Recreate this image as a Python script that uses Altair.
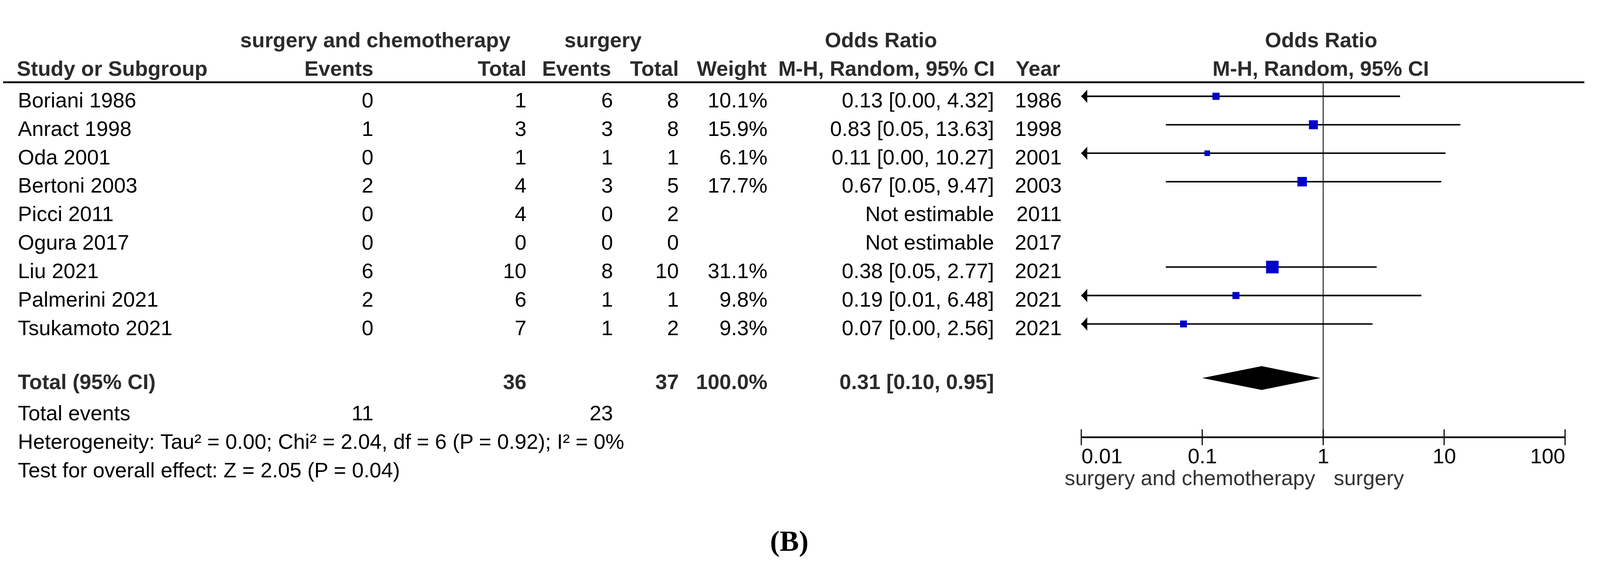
import altair as alt
import pandas as pd

# ---------------- data ----------------
studies = ["Boriani 1986", "Anract 1998", "Oda 2001", "Bertoni 2003", "Picci 2011",
           "Ogura 2017", "Liu 2021", "Palmerini 2021", "Tsukamoto 2021"]
events_sc = [0, 1, 0, 2, 0, 0, 6, 2, 0]
total_sc = [1, 3, 1, 4, 4, 0, 10, 6, 7]
events_s = [6, 3, 1, 3, 0, 0, 8, 1, 1]
total_s = [8, 8, 1, 5, 2, 0, 10, 1, 2]
weights = [10.1, 15.9, 6.1, 17.7, None, None, 31.1, 9.8, 9.3]
odds = [0.13, 0.83, 0.11, 0.67, None, None, 0.38, 0.19, 0.07]
ci_low = [0.00, 0.05, 0.00, 0.05, None, None, 0.05, 0.01, 0.00]
ci_high = [4.32, 13.63, 10.27, 9.47, None, None, 2.77, 6.48, 2.56]
years = [1986, 1998, 2001, 2003, 2011, 2017, 2021, 2021, 2021]

total_label = "Total (95% CI)"
total_n_sc = 36
total_n_s = 37
total_weight = 100.0
total_or = 0.31
total_lo = 0.10
total_hi = 0.95
events_label = "Total events"
total_events_sc = 11
total_events_s = 23
heterogeneity = "Heterogeneity: Tau\u00b2 = 0.00; Chi\u00b2 = 2.04, df = 6 (P = 0.92); I\u00b2 = 0%"
overall = "Test for overall effect: Z = 2.05 (P = 0.04)"
axis_ticks = [0.01, 0.1, 1, 10, 100]
favours = ["surgery and chemotherapy", "surgery"]

# ---------------- tables ----------------
def eff(o, l, h):
    if o is None:
        return "Not estimable"
    return f"{o:.2f} [{l:.2f}, {h:.2f}]"

df = pd.DataFrame({
    "study": studies,
    "e1": [str(v) for v in events_sc],
    "n1": [str(v) for v in total_sc],
    "e2": [str(v) for v in events_s],
    "n2": [str(v) for v in total_s],
    "w": weights,
    "wl": ["" if w is None else f"{w:.1f}%" for w in weights],
    "or": odds,
    "lo": ci_low,
    "hi": ci_high,
    "eff": [eff(o, l, h) for o, l, h in zip(odds, ci_low, ci_high)],
    "year": [str(y) for y in years],
})
df["r"] = range(len(df))
n = len(df)
R_TOTAL = n + 0.9

total_df = pd.DataFrame([{
    "r": R_TOTAL, "label": total_label, "n1": str(total_n_sc), "n2": str(total_n_s),
    "wl": f"{total_weight:.1f}%", "eff": eff(total_or, total_lo, total_hi)}])
events_df = pd.DataFrame([{"r": n + 2, "label": events_label,
                           "e1": str(total_events_sc), "e2": str(total_events_s)}])
notes_df = pd.DataFrame({"r": [n + 3, n + 4], "label": [heterogeneity, overall]})
diamond_df = pd.DataFrame({"v": [total_lo, total_or, total_hi], "half": [0, 1, 0]})
ticks_df = pd.DataFrame({"v": axis_ticks})
one_df = pd.DataFrame({"v": [1]})

# ---------------- style / layout ----------------
FONT = "Liberation Sans, Arial, Helvetica, sans-serif"
SERIF = "Liberation Serif, Times New Roman, serif"
FS = 57
HEAD = "#2b2b2b"
W, H = 4312, 1479
AXIS_Y = 1132
XS = alt.Scale(type="log", domain=[0.01, 100], range=[2917, 4226], clamp=True, nice=False)
YS = alt.Scale(domain=[-210 / 77, (H - 210) / 77], reverse=True, nice=False, zero=False)
X_AXIS = alt.Axis(values=axis_ticks, format="~g", title=None, grid=False, ticks=False, tickSize=0,
                  offset=AXIS_Y - H,
                  labelFlush=True, labelFlushOffset=0, labelPadding=25, labelFont=FONT,
                  labelFontSize=FS, labelColor="black", domainColor="black", domainWidth=4.5)


def xq(field):
    return alt.X(f"{field}:Q", scale=XS, axis=X_AXIS)


def yq(field="r"):
    return alt.Y(f"{field}:Q", scale=YS, axis=None)


dummy = alt.Data(values=[{}])


def label(text, x, y, align="left", bold=False, size=FS, color=HEAD, font=FONT):
    return alt.Chart(dummy).mark_text(
        text=text, align=align, baseline="alphabetic", fontSize=size, font=font,
        fontWeight="bold" if bold else "normal", color=color
    ).encode(x=alt.value(x), y=alt.value(y))


def column(data, field, x, align="right", bold=False, color="black"):
    return alt.Chart(data).mark_text(
        align=align, baseline="alphabetic", dy=30, fontSize=FS, font=FONT,
        fontWeight="bold" if bold else "normal", color=color
    ).encode(x=alt.value(x), y=yq(), text=f"{field}:N")


layers = []

# headers
L1, L2 = 77, 155
layers += [
    label("surgery and chemotherapy", 1007, L1, "center", True),
    label("surgery", 1623, L1, "center", True),
    label("Odds Ratio", 2375, L1, "center", True),
    label("Odds Ratio", 3566, L1, "center", True),
    label("Study or Subgroup", 37, L2, "left", True),
    label("Events", 1002, L2, "right", True),
    label("Total", 1416, L2, "right", True),
    label("Events", 1645, L2, "right", True),
    label("Total", 1828, L2, "right", True),
    label("Weight", 2066, L2, "right", True),
    label("M-H, Random, 95% CI", 2683, L2, "right", True),
    label("Year", 2860, L2, "right", True),
    label("M-H, Random, 95% CI", 3565, L2, "center", True),
]

# header rule
layers.append(alt.Chart(dummy).mark_rule(color="black", strokeWidth=5).encode(
    x=alt.value(0), x2=alt.value(4278), y=alt.value(172)))

# study rows
layers += [
    column(df, "study", 40, "left"),
    column(df, "e1", 1002),
    column(df, "n1", 1416),
    column(df, "e2", 1650),
    column(df, "n2", 1828),
    column(df, "wl", 2068),
    column(df, "eff", 2681),
    column(df, "year", 2864),
]

# total rows
layers += [
    column(total_df, "label", 40, "left", True, HEAD),
    column(total_df, "n1", 1416, "right", True, HEAD),
    column(total_df, "n2", 1828, "right", True, HEAD),
    column(total_df, "wl", 2068, "right", True, HEAD),
    column(total_df, "eff", 2681, "right", True, HEAD),
    column(events_df, "label", 40, "left"),
    column(events_df, "e1", 1002),
    column(events_df, "e2", 1650),
    column(notes_df, "label", 40, "left"),
]

# forest plot
forest = alt.Chart(df).transform_filter("isValid(datum.or)").transform_calculate(
    lo_c="max(datum.lo, 0.01)")

layers.append(alt.Chart(one_df).mark_rule(color="#3a3a3a", strokeWidth=3).encode(
    x=xq("v"), y=alt.value(172), y2=alt.value(AXIS_Y)))
layers.append(forest.mark_rule(color="black", strokeWidth=4).encode(
    x=xq("lo_c"), x2="hi:Q", y=yq()))
layers.append(forest.transform_filter("datum.lo <= 0.01").mark_point(
    shape="M 0 0 L 0.9 -1 L 0.9 1 Z", filled=True, color="black", opacity=1,
    size=1296, strokeWidth=0).encode(x=xq("lo_c"), y=yq()))
layers.append(forest.mark_square(filled=True, color="#0000CC", opacity=1).encode(
    x=xq("or"), y=yq(),
    size=alt.Size("w:Q", scale=alt.Scale(type="linear", domain=[0, 100], range=[0, 3720]),
                  legend=None)))
layers.append(alt.Chart(diamond_df).transform_calculate(
    ytop=f"{R_TOTAL} - datum.half * 0.42", ybot=f"{R_TOTAL} + datum.half * 0.42"
).mark_area(orient="vertical", color="black", opacity=1).encode(
    x=xq("v"), y=yq("ytop"), y2="ybot:Q"))
layers.append(alt.Chart(ticks_df).mark_rule(color="black", strokeWidth=3).encode(
    x=xq("v"), y=alt.value(1111), y2=alt.value(1154)))

# favours labels and caption
layers += [
    label(favours[0], 3550, 1262, "right", False, FS, "#333333"),
    label(favours[1], 3600, 1262, "left", False, FS, "#333333"),
    label("(B)", 2127, 1440, "center", True, 78, "black", SERIF),
]

chart = alt.layer(*layers).properties(
    width=W, height=H, padding=0, background="white",
    autosize=alt.AutoSizeParams(type="none"),
).configure_view(stroke=None)

chart.save("out.html", embed_options={"renderer": "svg", "actions": False})
